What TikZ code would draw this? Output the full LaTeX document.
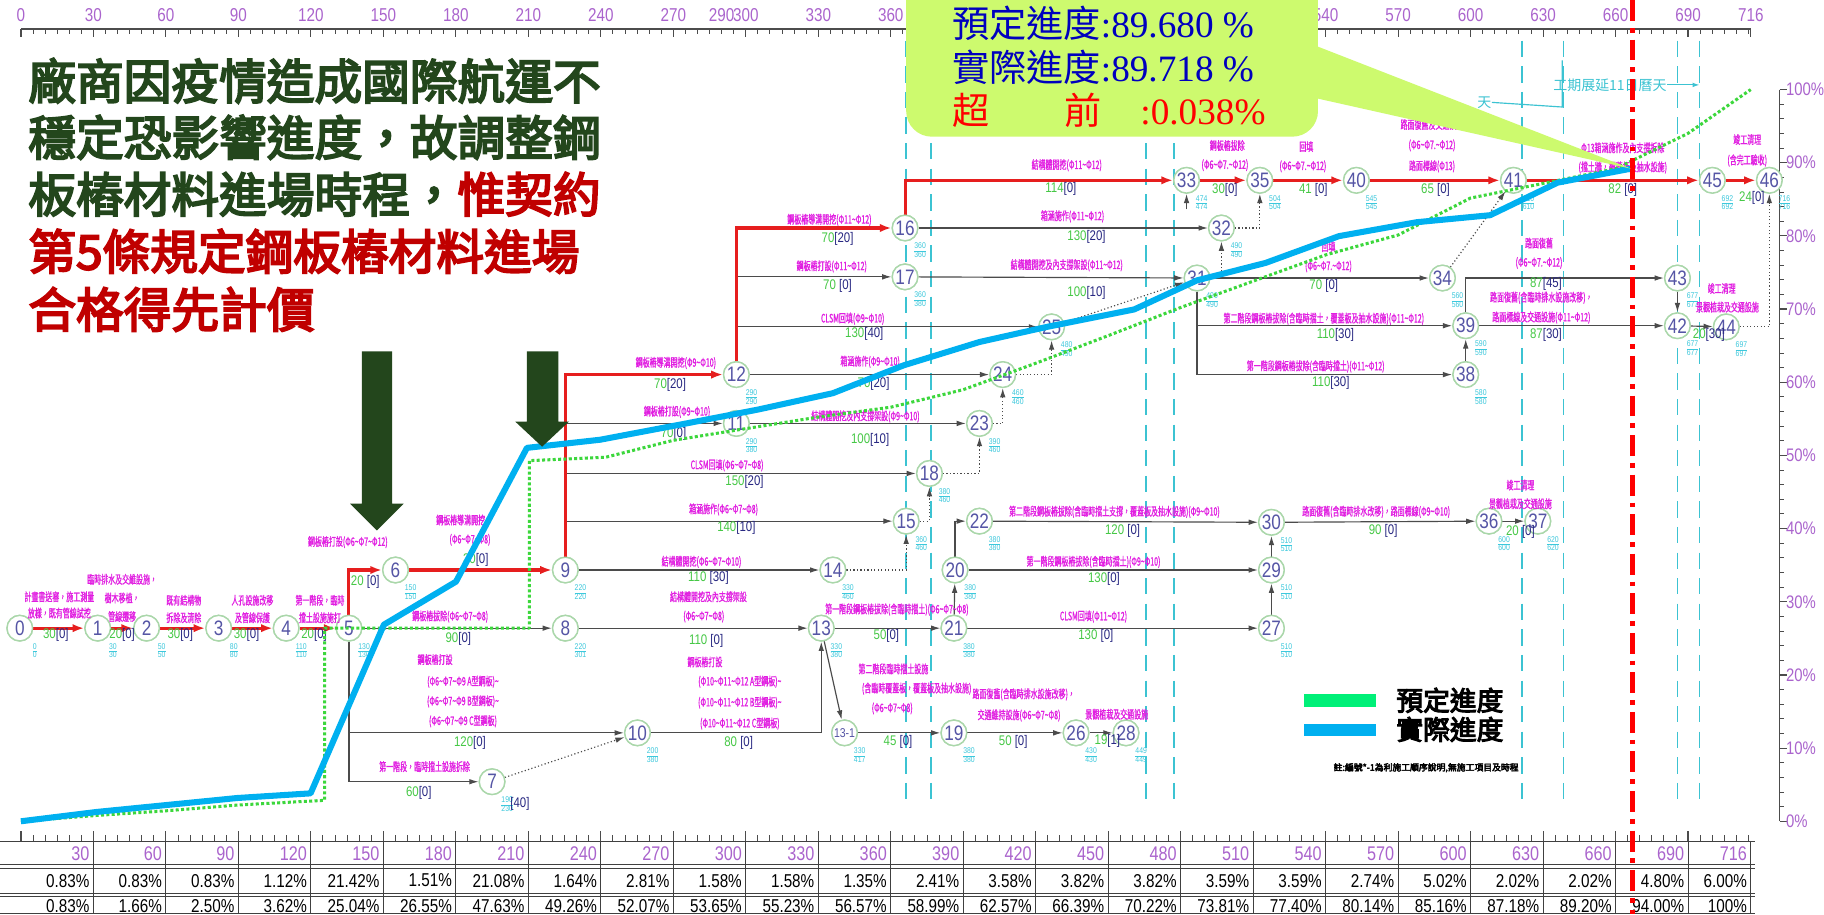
\documentclass[tikz,border=0pt]{standalone}
\usepackage{fontspec}
\usetikzlibrary{arrows.meta,calc}
\setmainfont{Liberation Sans}
\newfontfamily\cjk{Noto Sans CJK TC}
\newfontfamily\cjkb{Noto Sans CJK TC}[FakeBold=4]
\newfontfamily\cjkn{Noto Sans CJK TC}[FakeStretch=0.6,FakeBold=1]
\newfontfamily\narrow{Liberation Sans}[FakeStretch=0.82]
\newfontfamily\sdig{Liberation Serif}
\definecolor{ndring}{RGB}{170,215,170}
\definecolor{ndtxt}{RGB}{85,85,165}
\definecolor{mag}{RGB}{225,30,225}
\definecolor{durg}{RGB}{70,200,70}
\definecolor{navy}{RGB}{40,40,130}
\definecolor{evc}{RGB}{60,200,220}
\definecolor{critc}{RGB}{230,30,30}
\definecolor{edg}{RGB}{75,75,75}
\definecolor{axp}{RGB}{170,100,205}
\definecolor{cyanl}{RGB}{60,195,210}
\definecolor{plang}{RGB}{60,215,60}
\definecolor{actb}{RGB}{0,176,240}
\definecolor{callc}{RGB}{205,250,110}
\definecolor{dgreen}{RGB}{35,70,28}
\definecolor{dred}{RGB}{192,0,0}
\definecolor{cblue}{RGB}{0,0,190}
\definecolor{legg}{RGB}{0,240,120}
\newcommand\tld{\textasciitilde}
\newcounter{labc}
\newcommand\ML[3]{\stepcounter{labc}\node[mlab] (ml\thelabc) at (#1,#2) {#3};}
\newcommand\DU[4]{\stepcounter{labc}\node[dlab] (du\thelabc) at (#1,#2) {\textcolor{durg}{#3}\textcolor{navy}{[#4]}};}
\newcommand\evt[2]{\def\arraystretch{0.8}\begin{tabular}{@{}c@{}}#1\\\hline #2\end{tabular}}
\newcommand\EV[3]{\node[evs] (e#1) at ($(n#1)+(13,20)$) {\evt{#2}{#3}};}
\setlength\arrayrulewidth{0.3pt}
\tikzset{
 nd/.style={circle,draw=ndring,line width=0.6pt,fill=white,minimum size=11pt,inner sep=0pt,text=ndtxt,font=\narrow\fontsize{9}{9}\selectfont},
 act/.style={draw=edg,line width=0.5pt,-{Latex[length=4pt,width=2.4pt]}},
 crit/.style={draw=critc,line width=1.3pt,-{Latex[length=5pt,width=3.6pt]}},
 dotedge/.style={draw=edg,line width=0.5pt,densely dotted,-{Latex[length=4pt,width=2.4pt]}},
 mlab/.style={text=mag,font=\cjkn\fontsize{5}{5}\selectfont,inner sep=0pt},
 dlab/.style={font=\narrow\fontsize{6}{6}\selectfont,inner sep=0pt},
 evs/.style={text=evc,font=\narrow\fontsize{3.6}{3.6}\selectfont,inner sep=0pt},
 axlab/.style={text=axp,font=\narrow\fontsize{8}{8}\selectfont,inner sep=0pt},
 tabv/.style={font=\narrow\fontsize{8}{8}\selectfont,inner sep=0pt},
 tabl/.style={draw=black!75,line width=0.4pt},
 cyandash/.style={draw=cyanl,line width=0.8pt,dash pattern=on 7pt off 4pt},
 lt/.style={font=\cjkb\fontsize{20.5}{20.5}\selectfont,text=dgreen,inner sep=0pt,anchor=west},
 ct/.style={font=\fontsize{16}{16}\selectfont,inner sep=0pt,anchor=west},
}
\begin{document}
\begin{tikzpicture}[x=0.5pt,y=-0.5pt]
\useasboundingbox (0,0) rectangle (1568,786);
\fill[white] (0,0) rectangle (1568,786);

% ---------- top axis
\draw[draw=black!70,line width=0.5pt] (18,25) -- (1505,25);
\foreach \d in {0,5,...,715} {\draw[black!70,line width=0.4pt] (18+2.077*\d,25) -- (18+2.077*\d,29);}
\foreach \d in {0,30,...,690,716} {\draw[black!70,line width=0.5pt] (18+2.077*\d,25) -- (18+2.077*\d,32);}
\foreach \d in {0,30,60,90,120,150,180,210,240,270,290,300,330,360,540,570,600,630,660,690,716}
 {\node[axlab] (ta\d) at (18+2.077*\d,13) {\d};}

% ---------- right axis
\draw[black!70,line width=0.5pt] (1530,77) -- (1530,706);
\foreach \p in {0,2,...,100} {\draw[black!70,line width=0.4pt] (1530,706-6.29*\p) -- ++(4,0);}
\foreach \p in {0,10,...,100} {\draw[black!70,line width=0.5pt] (1530,706-6.29*\p) -- ++(6,0);
 \node[axlab,anchor=west,font=\narrow\fontsize{7.8}{7.8}\selectfont] (ra\p) at (1535,706-6.29*\p) {\p\%};}

% ---------- cyan dashed milestone lines
\foreach \x in {779,800,985,1009,1308,1344,1442,1461} {\draw[cyandash] (\x,35) -- (\x,690);}
\node[text=cyanl,font=\cjk\fontsize{6}{6}\selectfont,inner sep=0pt] (ext) at (1384,73) {工期展延11日曆天};
\coordinate (extend) at (1461,73);
\draw[cyanl,line width=0.5pt,-{Latex[length=3pt,width=2pt]}] (ext.east) -- (extend);
\node[text=cyanl,font=\cjk\fontsize{6}{6}\selectfont,inner sep=0pt] (ext2) at (1276,88) {天};
\coordinate (bk1) at (1343,92); \coordinate (bk2) at (1343,52);
\draw[cyanl,line width=0.5pt] (ext2.east) -- (bk1) -- (bk2);

% ---------- table
\draw[tabl] (0,723) -- (1509,723);
\draw[tabl] (0,743.5) -- (1509,743.5); \draw[tabl] (0,746.5) -- (1509,746.5);
\draw[tabl] (0,768) -- (1509,768); \draw[tabl] (0,771) -- (1509,771);
\draw[tabl] (0,785.5) -- (1509,785.5);
\foreach \d in {0,5,...,715} {\draw[black!70,line width=0.4pt] (18+2.077*\d,723) -- (18+2.077*\d,718);}
\foreach \d in {0,30,...,690} {\draw[black!70,line width=0.5pt] (18+2.077*\d,723) -- (18+2.077*\d,714);}
\foreach [count=\k] \d/\a/\b in {30/0.83/0.83,60/0.83/1.66,90/0.83/2.50,120/1.12/3.62,150/21.42/25.04,180/1.51/26.55,210/21.08/47.63,240/1.64/49.26,270/2.81/52.07,300/1.58/53.65,330/1.58/55.23,360/1.35/56.57,390/2.41/58.99,420/3.58/62.57,450/3.82/66.39,480/3.82/70.22,510/3.59/73.81,540/3.59/77.40,570/2.74/80.14,600/5.02/85.16,630/2.02/87.18,660/2.02/89.20,690/4.80/94.00,716/6.00/100}
{
 \pgfmathsetmacro\xx{18+2.077*\d}
 \draw[tabl] (\xx,723) -- (\xx,786);
 \node[axlab,anchor=east,font=\narrow\fontsize{8.5}{8.5}\selectfont] (th\k) at (\xx-3,733.5) {\d};
 \node[tabv,anchor=east] (ti\k) at (\xx-3,757) {\a\%};
 \node[tabv,anchor=east] (tc\k) at (\xx-3,778.5) {\b\%};
}

% ---------- nodes (positions)
\node[nd] (n0) at (17,540) {0};
\node[nd] (n1) at (84,540) {1};
\node[nd] (n2) at (126,540) {2};
\node[nd] (n3) at (188,540) {3};
\node[nd] (n4) at (246,540) {4};
\node[nd] (n5) at (300,540) {5};
\node[nd] (n6) at (340,490) {6};
\node[nd] (n7) at (423,672) {7};
\node[nd] (n8) at (486,540) {8};
\node[nd] (n9) at (486,490) {9};
\node[nd] (n10) at (548,630) {10};
\node[nd] (n11) at (633,364) {11};
\node[nd] (n12) at (633,322) {12};
\node[nd] (n13) at (706,540) {13};
\node[nd,font=\narrow\fontsize{5.5}{5.5}\selectfont] (n131) at (726,630) {13-1};
\node[nd] (n14) at (716,490) {14};
\node[nd] (n15) at (779,448) {15};
\node[nd] (n16) at (778,196) {16};
\node[nd] (n17) at (778,238) {17};
\node[nd] (n18) at (799,407) {18};
\node[nd] (n19) at (820,630) {19};
\node[nd] (n20) at (821,490) {20};
\node[nd] (n21) at (820,540) {21};
\node[nd] (n22) at (842,448) {22};
\node[nd] (n23) at (842,364) {23};
\node[nd] (n24) at (862,322) {24};
\node[nd] (n25) at (904,281) {25};
\node[nd] (n26) at (925,630) {26};
\node[nd] (n27) at (1093,540) {27};
\node[nd] (n28) at (968,630) {28};
\node[nd] (n29) at (1093,490) {29};
\node[nd] (n30) at (1093,449) {30};
\node[nd] (n31) at (1029,239) {31};
\node[nd] (n32) at (1050,196) {32};
\node[nd] (n33) at (1020,155) {33};
\node[nd] (n34) at (1240,239) {34};
\node[nd] (n35) at (1083,155) {35};
\node[nd] (n36) at (1280,448) {36};
\node[nd] (n37) at (1322,448) {37};
\node[nd] (n38) at (1260,322) {38};
\node[nd] (n39) at (1260,280) {39};
\node[nd] (n40) at (1166,155) {40};
\node[nd] (n41) at (1301,155) {41};
\node[nd] (n42) at (1442,280) {42};
\node[nd] (n43) at (1442,239) {43};
\node[nd] (n44) at (1484,281) {44};
\node[nd] (n45) at (1472,155) {45};
\node[nd] (n46) at (1521,155) {46};

% ---------- activity edges (gray)
\draw[act] (n5) -- (n8);
\draw[act] (n5) |- (n10);
\draw[act] (n5) |- (n7);
\draw[dotedge] (n7) -- (n10);
\draw[act] (n9) -- (n14);
\draw[act] (n9) |- (n11);
\draw[act] (n9) |- (n18);
\draw[act] (n9) |- (n15);
\draw[act] (n8) -- (n13);
\draw[act] (n10) -| (n13);
\draw[act] (n13) -- (n131);
\draw[act] (n13) -- (n21);
\draw[act] (n131) -- (n19);
\draw[act] (n21) -- (n20);
\draw[act] (n20) |- (n22);
\draw[act] (n20) -- (n29);
\draw[act] (n21) -- (n27);
\draw[act] (n22) -- (n30);
\draw[act] (n27) -- (n29);
\draw[act] (n29) -- (n30);
\draw[act] (n19) -- (n26);
\draw[act] (n26) -- (n28);
\draw[act] (n30) -- (n36);
\draw[act] (n36) -- (n37);
\draw[dotedge] (n14) -| (n15);
\draw[dotedge] (n15) -| (n18);
\draw[dotedge] (n18) -| (n23);
\draw[act] (n11) -- (n23);
\draw[act] (n12) -- (n24);
\draw[dotedge] (n23) -| (n24);
\draw[dotedge] (n24) -| (n25);
\draw[dotedge] (n25) -- (n31);
\draw[act] (n12) |- (n17);
\draw[act] (n12) |- (n25);
\draw[act] (n16) -- (n32);
\draw[act] (n17) -- (n31);
\draw[dotedge] (n31) -| (n32);
\draw[dotedge] (n32) -| (n35);
\coordinate (c33) at (1020,180);
\draw[act] (c33) -- (n33);
\draw[act] (n31) -- (n34);
\draw[act] (n31) |- (n39);
\draw[act] (n31) |- (n38);
\draw[dotedge] (n34) -- (n41);
\draw[act] (n38) -- (n39);
\draw[act] (n39) |- (n43);
\draw[act] (n39) -- (n42);
\draw[act] (n43) -- (n42);
\draw[act] (n42) -- (n44);
\draw[dotedge] (n44) -| (n46);
% ---------- critical path (red)
\draw[crit] (n0) -- (n1);
\draw[crit] (n1) -- (n2);
\draw[crit] (n2) -- (n3);
\draw[crit] (n3) -- (n4);
\draw[crit] (n4) -- (n5);
\draw[crit] (n5) |- (n6);
\draw[crit] (n6) -- (n9);
\draw[crit] (n9) |- (n12);
\draw[crit] (n12) |- (n16);
\draw[crit] (n16) |- (n33);
\draw[crit] (n33) -- (n35);
\draw[crit] (n35) -- (n40);
\draw[crit] (n40) -- (n41);
\draw[crit] (n41) -- (n45);
\draw[crit] (n45) -- (n46);
% nodes drawn again over the edges
\foreach \n in {0,1,...,46}
 {\node[nd] (m\n) at (n\n) {\n};}
\node[nd,font=\narrow\fontsize{5.5}{5.5}\selectfont] (m131) at (n131) {13-1};

% ---------- event times
\EV{0}{0}{0} \EV{1}{30}{30} \EV{2}{50}{50} \EV{3}{80}{80} \EV{4}{110}{110} \EV{5}{130}{130}
\EV{6}{150}{150} \EV{7}{190}{230} \EV{8}{220}{301} \EV{9}{220}{220} \EV{10}{200}{380} \EV{11}{290}{380}
\EV{12}{290}{290} \EV{13}{330}{380} \EV{131}{330}{417} \EV{14}{330}{460} \EV{15}{360}{460} \EV{16}{360}{360}
\EV{17}{360}{380} \EV{18}{380}{460} \EV{19}{380}{380} \EV{20}{380}{380} \EV{21}{380}{380} \EV{22}{380}{380}
\EV{23}{390}{460} \EV{24}{460}{460} \EV{25}{480}{490} \EV{26}{430}{430} \EV{27}{510}{510} \EV{28}{449}{449}
\EV{29}{510}{510} \EV{30}{510}{510} \EV{31}{490}{490} \EV{32}{490}{490} \EV{33}{474}{474} \EV{34}{560}{560}
\EV{35}{504}{504} \EV{36}{600}{600} \EV{37}{620}{620} \EV{38}{580}{580} \EV{39}{590}{590} \EV{40}{545}{545}
\EV{41}{610}{610} \EV{42}{677}{677} \EV{43}{677}{677} \EV{44}{697}{697} \EV{45}{692}{692} \EV{46}{716}{716}

% ---------- activity names
\ML{51}{513}{計畫書送審，施工測量}
\ML{51}{527}{放樣，既有管線試挖}
\ML{105}{498}{臨時排水及交維設施，}
\ML{105}{514}{樹木移植，}
\ML{105}{530}{管線遷移}
\ML{158}{516}{既有結構物}
\ML{158}{531}{拆除及清除}
\ML{217}{516}{人孔設施改移}
\ML{217}{531}{及管線保護}
\ML{275}{516}{第一階段，臨時}
\ML{275}{531}{擋土設施施打}
\ML{299}{466}{鋼板樁打設(Φ6\tld Φ7\tld Φ12)}
\ML{396}{447}{鋼板樁導溝開挖}
\ML{404}{464}{(Φ6\tld Φ7\tld Φ8)}
\ML{387}{530}{鋼板樁拔除(Φ6\tld Φ7\tld Φ8)}
\ML{374}{567}{鋼板樁打設}
\ML{398}{586}{(Φ6\tld Φ7\tld Φ9 A型鋼板)\tld}
\ML{398}{603}{(Φ6\tld Φ7\tld Φ9 B型鋼板)\tld}
\ML{398}{620}{(Φ6\tld Φ7\tld Φ9 C型鋼板)}
\ML{365}{659}{第一階段，臨時擋土設施拆除}
\ML{581}{312}{鋼板樁導溝開挖(Φ9\tld Φ10)}
\ML{748}{311}{箱涵施作(Φ9\tld Φ10)}
\ML{582}{354}{鋼板樁打設(Φ9\tld Φ10)}
\ML{744}{358}{結構體開挖及內支撐架設(Φ9\tld Φ10)}
\ML{625}{400}{CLSM回填(Φ6\tld Φ7\tld Φ8)}
\ML{622}{438}{箱涵施作(Φ6\tld Φ7\tld Φ8)}
\ML{603}{483}{結構體開挖(Φ6\tld Φ7\tld Φ10)}
\ML{609}{513}{結構體開挖及內支撐架設}
\ML{605}{530}{(Φ6\tld Φ7\tld Φ8)}
\ML{771}{524}{第一階段鋼板樁拔除(含臨時擋土)(Φ6\tld Φ7\tld Φ8)}
\ML{606}{569}{鋼板樁打設}
\ML{636}{586}{(Φ10\tld Φ11\tld Φ12 A型鋼板)\tld}
\ML{636}{604}{(Φ10\tld Φ11\tld Φ12 B型鋼板)\tld}
\ML{636}{622}{(Φ10\tld Φ11\tld Φ12 C型鋼板)}
\ML{768}{575}{第二階段臨時擋土設施}
\ML{788}{592}{(含臨時覆蓋板，覆蓋板及抽水設施)}
\ML{767}{609}{(Φ6\tld Φ7\tld Φ8)}
\ML{880}{597}{路面復舊(含臨時排水設施改移)，}
\ML{876}{615}{交通維持設施(Φ6\tld Φ7\tld Φ8)}
\ML{960}{614}{景觀植栽及交通設施}
\ML{958}{440}{第二階段鋼板樁拔除(含臨時擋土支撐，覆蓋板及抽水設施)(Φ9\tld Φ10)}
\ML{940}{483}{第一階段鋼板樁拔除(含臨時擋土)(Φ9\tld Φ10)}
\ML{940}{530}{CLSM回填(Φ11\tld Φ12)}
\ML{1183}{440}{路面復舊(含臨時排水改移)，路面標線(Φ9\tld Φ10)}
\ML{1307}{417}{竣工清理}
\ML{1307}{433}{景觀植栽及交通設施}
\ML{713}{189}{鋼板樁導溝開挖(Φ11\tld Φ12)}
\ML{715}{229}{鋼板樁打設(Φ11\tld Φ12)}
\ML{733}{274}{CLSM回填(Φ9\tld Φ10)}
\ML{917}{142}{結構體開挖(Φ11\tld Φ12)}
\ML{922}{186}{箱涵施作(Φ11\tld Φ12)}
\ML{917}{228}{結構體開挖及內支撐架設(Φ11\tld Φ12)}
\ML{1055}{125}{鋼板樁拔除}
\ML{1053}{142}{(Φ6\tld Φ7.\tld Φ12)}
\ML{1123}{126}{回填}
\ML{1120}{143}{(Φ6\tld Φ7.\tld Φ12)}
\ML{1231}{107}{路面復舊及交通設施}
\ML{1231}{125}{(Φ6\tld Φ7.\tld Φ12)}
\ML{1231}{143}{路面標線(Φ13)}
\ML{1395}{127}{Φ13箱涵施作及內支撐拆除}
\ML{1395}{144}{(擋土牆，覆蓋板及抽水設施)}
\ML{1502}{120}{竣工清理}
\ML{1502}{138}{(含完工驗收)}
\ML{1142}{212}{回填}
\ML{1142}{229}{(Φ6\tld Φ7.\tld Φ12)}
\ML{1138}{274}{第二階段鋼板樁拔除(含臨時擋土，覆蓋板及抽水設施)(Φ11\tld Φ12)}
\ML{1131}{315}{第一階段鋼板樁拔除(含臨時擋土)(Φ11\tld Φ12)}
\ML{1323}{209}{路面復舊}
\ML{1323}{226}{(Φ6\tld Φ7.\tld Φ12)}
\ML{1325}{256}{路面復舊(含臨時排水設施改移)，}
\ML{1325}{273}{路面標線及交通設施(Φ11\tld Φ12)}
\ML{1480}{248}{竣工清理}
\ML{1485}{264}{景觀植栽及交通設施}

% ---------- durations [float]
\DU{48}{546}{30}{0} \DU{105}{546}{20}{0} \DU{155}{546}{30}{0} \DU{212}{546}{30}{0} \DU{270}{546}{20}{0}
\DU{314}{500}{20 }{0} \DU{409}{481}{30}{0} \DU{394}{549}{90}{0} \DU{404}{639}{120}{0} \DU{360}{682}{60}{0}
\node[dlab] (f7) at (447,691) {\textcolor{navy}{[40]}};
\DU{576}{331}{70}{20} \DU{751}{330}{70}{20} \DU{579}{373}{70}{0} \DU{748}{378}{100}{10}
\DU{640}{414}{150}{20} \DU{633}{454}{140}{10} \DU{609}{497}{110 }{30} \DU{607}{551}{110 }{0}
\DU{762}{547}{50}{0} \DU{635}{639}{80 }{0} \DU{772}{638}{45 }{0} \DU{871}{638}{50 }{0} \DU{952}{637}{19}{1}
\DU{965}{456}{120 }{0} \DU{949}{498}{130}{0} \DU{942}{547}{130 }{0} \DU{1189}{456}{90 }{0} \DU{1307}{457}{20 }{0}
\DU{720}{205}{70}{20} \DU{720}{246}{70 }{0} \DU{743}{287}{130}{40} \DU{912}{162}{114}{0} \DU{934}{204}{130}{20}
\DU{934}{252}{100}{10} \DU{1053}{163}{30}{0} \DU{1129}{163}{41 }{0} \DU{1234}{163}{65 }{0} \DU{1395}{163}{82 }{0}
\DU{1506}{170}{24}{0} \DU{1138}{246}{70 }{0} \DU{1148}{288}{110}{30} \DU{1144}{329}{110}{30}
\DU{1329}{244}{87}{45} \DU{1329}{288}{87}{30} \DU{1469}{288}{20}{30}

% ---------- planned (green) and actual (blue) curves
\draw[plang,line width=1.3pt,densely dotted,line join=round]
 (18,706) -- (83,701) -- (143,697) -- (205,692) -- (279,688) -- (279,540) -- (455,540) -- (455,396)
 -- (521,393) -- (579,378.5) -- (641,368.5) -- (703,358.6) -- (766,350) -- (828,335) -- (890,312.4)
 -- (953,288.4) -- (1015,264.3) -- (1077,241.8) -- (1140,219) -- (1202,202) -- (1264,170.3)
 -- (1327,157.6) -- (1389,145) -- (1451,114.7) -- (1505,77);
\draw[actb,line width=2.6pt,line join=round]
 (18,706) -- (83,698) -- (204,686) -- (267,682) -- (330,537) -- (392,500) -- (453,385) -- (516,378)
 -- (590,364) -- (652,352) -- (716,338) -- (777,314) -- (842,294) -- (900,281) -- (975,266)
 -- (1029,241) -- (1088,226) -- (1151,203) -- (1218,191) -- (1281,185) -- (1339,157) -- (1402,145);

% ---------- status line
\draw[red,line width=2.2pt,dash pattern=on 9pt off 3pt on 2pt off 3pt] (1403,0) -- (1403,786);

% ---------- callout
\fill[callc,rounded corners=11pt] (779,-40) rectangle (1133,117.5);
\fill[callc] (1125,37) -- (1402,145) -- (1125,83) -- cycle;
\node[ct,text=cblue] (cl1) at (818,20) {{\cjk 預定進度}{\sdig :89.680 \%}};
\node[ct,text=cblue] (cl2) at (818,58) {{\cjk 實際進度}{\sdig :89.718 \%}};
\node[ct,text=red] (cl3) at (818,95) {{\cjk 超}\hspace{32.5pt}{\cjk 前}\hspace{16.5pt}{\sdig :0.038\%}};

% ---------- left statement
\node[lt] (t1) at (24,69.5) {廠商因疫情造成國際航運不};
\node[lt] (t2) at (24,118) {穩定恐影響進度，故調整鋼};
\node[lt] (t3) at (24,167) {板樁材料進場時程，\textcolor{dred}{惟契約}};
\node[lt,text=dred] (t4) at (24,216) {第5條規定鋼板樁材料進場};
\node[lt,text=dred] (t5) at (24,266) {合格得先計價};

% ---------- big arrows
\fill[dgreen] (311,302) -- (337,302) -- (337,433) -- (347,433) -- (324,456) -- (301,433) -- (311,433) -- cycle;
\fill[dgreen] (453,302) -- (480,302) -- (480,362.5) -- (489,362.5) -- (466,384) -- (443,362.5) -- (453,362.5) -- cycle;

% ---------- legend
\fill[legg] (1121,597) rectangle (1183,608);
\fill[actb] (1121,622) rectangle (1183,633);
\node[anchor=west,inner sep=0pt,font=\cjkb\fontsize{11.5}{11.5}\selectfont] (lg1) at (1200,602) {預定進度};
\node[anchor=west,inner sep=0pt,font=\cjkb\fontsize{11.5}{11.5}\selectfont] (lg2) at (1200,627) {實際進度};
\node[inner sep=0pt,font=\cjkb\fontsize{3.8}{3.8}\selectfont] (note) at (1226,660) {註:編號*-1為利施工順序說明,無施工項目及時程};
\end{tikzpicture}
\end{document}
